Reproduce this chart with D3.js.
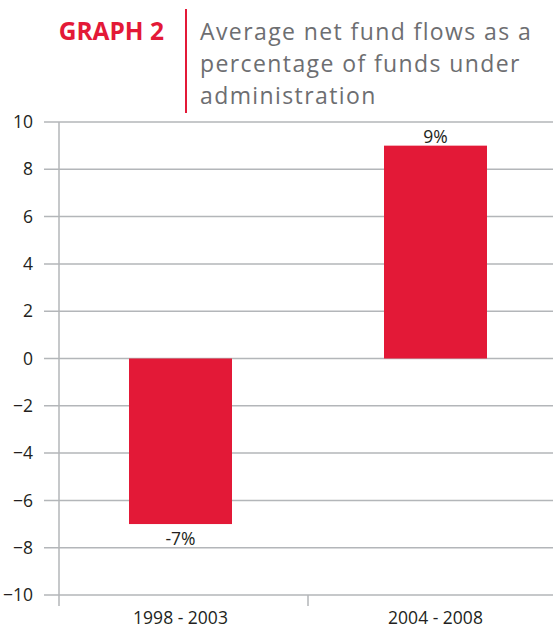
<!DOCTYPE html>
<html>
<head>
<meta charset="utf-8">
<script src="https://cdn.jsdelivr.net/npm/d3@7"></script>
<style>
  body { margin: 0; background: #fff; }
  svg { display: block; font-family: 'Open Sans', 'Noto Sans', sans-serif; }
</style>
</head>
<body>
<div class="svg-container"></div>
<script>
const categories = ['1998 - 2003', '2004 - 2008']
const values = [-7, 9]
const valueLabels = ['-7%', '9%']
const yTicks = [-10, -8, -6, -4, -2, 0, 2, 4, 6, 8, 10]
const titleLabel = 'GRAPH 2'
const titleLines = ['Average net fund flows as a', 'percentage of funds under', 'administration']

;(function init() {
  const width = 553
  const height = 628
  const axisX = 59
  const red = '#e31937'
  const grid = '#b3b6b9'
  const ink = '#231f20'

  const svg = d3
    .select('.svg-container')
    .append('svg')
    .attr('width', width)
    .attr('height', height)

  // title block
  svg
    .append('text')
    .attr('x', 164)
    .attr('y', 40)
    .attr('text-anchor', 'end')
    .attr('fill', red)
    .attr('font-weight', 'bold')
    .attr('font-size', 24.5)
    .text(titleLabel)

  svg
    .append('line')
    .attr('x1', 186)
    .attr('x2', 186)
    .attr('y1', 9)
    .attr('y2', 113)
    .attr('stroke', red)
    .attr('stroke-width', 2)

  svg
    .selectAll('.subtitle')
    .data(titleLines)
    .enter()
    .append('text')
    .attr('class', 'subtitle')
    .attr('x', 200)
    .attr('y', (d, i) => 40 + i * 32)
    .attr('fill', '#6d6e71')
    .attr('font-size', 23)
    .attr('letter-spacing', 1.4)
    .text((d) => d)

  const yScale = d3.scaleLinear().domain([-10, 10]).range([595, 122])
  const xScale = d3
    .scaleBand()
    .domain(categories)
    .range([53, 563])
    .paddingInner(0)
    .paddingOuter(0)

  // gridlines with tick marks
  svg
    .append('g')
    .selectAll('line')
    .data(yTicks)
    .enter()
    .append('line')
    .attr('x1', 44)
    .attr('x2', width)
    .attr('y1', (d) => yScale(d))
    .attr('y2', (d) => yScale(d))
    .attr('stroke', grid)
    .attr('stroke-width', 1.5)

  const yAxis = d3
    .axisLeft(yScale)
    .tickValues(yTicks)
    .tickSize(0)
    .tickPadding(0)

  const gy = svg
    .append('g')
    .attr('transform', 'translate(33,0)')
    .call(yAxis)
  gy.select('.domain').remove()
  gy.selectAll('text')
    .attr('font-size', 17.5)
    .attr('fill', ink)
    .attr('font-family', "'Open Sans', 'Noto Sans', sans-serif")

  // y axis line
  svg
    .append('line')
    .attr('x1', axisX)
    .attr('x2', axisX)
    .attr('y1', yScale(10))
    .attr('y2', yScale(-10) + 11)
    .attr('stroke', grid)
    .attr('stroke-width', 1.5)

  // divider tick between categories
  svg
    .append('line')
    .attr('x1', xScale(categories[1]))
    .attr('x2', xScale(categories[1]))
    .attr('y1', yScale(-10))
    .attr('y2', yScale(-10) + 11)
    .attr('stroke', grid)
    .attr('stroke-width', 1.5)

  const barWidth = 103

  svg
    .selectAll('rect.bar')
    .data(values)
    .enter()
    .append('rect')
    .attr('class', 'bar')
    .attr('x', (d, i) => xScale(categories[i]) + xScale.bandwidth() / 2 - barWidth / 2)
    .attr('y', (d) => yScale(Math.max(0, d)))
    .attr('width', barWidth)
    .attr('height', (d) => Math.abs(yScale(d) - yScale(0)))
    .attr('fill', red)

  svg
    .selectAll('text.value')
    .data(values)
    .enter()
    .append('text')
    .attr('class', 'value')
    .attr('x', (d, i) => xScale(categories[i]) + xScale.bandwidth() / 2)
    .attr('y', (d) => (d >= 0 ? yScale(d) - 3 : yScale(d) + 21))
    .attr('text-anchor', 'middle')
    .attr('font-size', 17.5)
    .attr('fill', ink)
    .text((d, i) => valueLabels[i])

  svg
    .selectAll('text.cat')
    .data(categories)
    .enter()
    .append('text')
    .attr('class', 'cat')
    .attr('x', (d) => xScale(d) + xScale.bandwidth() / 2)
    .attr('y', 624)
    .attr('text-anchor', 'middle')
    .attr('font-size', 17.5)
    .attr('fill', ink)
    .text((d) => d)
})()
</script>
</body>
</html>
